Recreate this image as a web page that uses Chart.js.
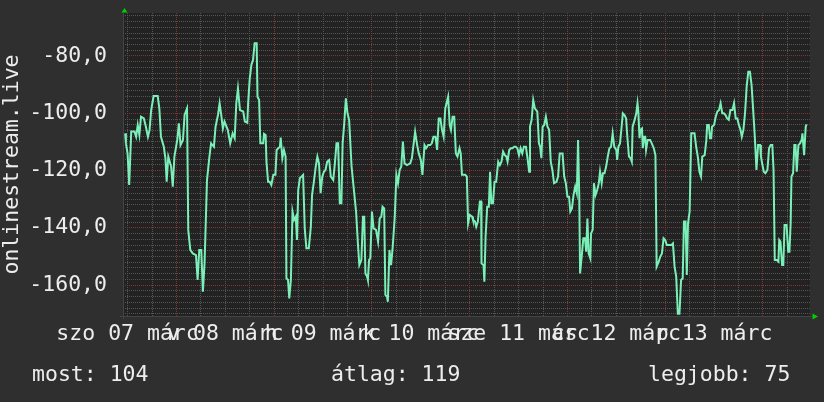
<!DOCTYPE html>
<html>
<head>
<meta charset="utf-8">
<title>onlinestream.live</title>
<script src="https://cdn.jsdelivr.net/npm/chart.js@4.4.1/dist/chart.umd.min.js"></script>
<style>
    html, body { margin: 0; padding: 0; background: #2f2f2f; }
    canvas { display: block; }
</style>
</head>
<body>
<canvas id="rrd-graph" width="824" height="402"></canvas>
<script>
// time axis: hours counted from szo 07 márc 00:00
const hours = [
    11.4, 11.6, 12.0, 12.4, 12.9, 13.7, 14.1, 14.5, 14.9, 15.3, 16.0, 16.5, 17.0, 17.4, 17.8, 18.4, 19.4, 19.8, 20.2, 20.9,
    21.3, 21.6, 22.0, 22.7, 23.1, 23.5, 24.2, 24.6, 25.0, 25.6, 26.0, 26.6, 26.9, 27.4, 28.0, 28.8, 29.2, 29.6, 30.1, 30.5,
    30.9, 31.1, 31.5, 32.1, 32.5, 33.2, 33.6, 34.2, 34.6, 35.0, 35.4, 35.8, 36.6, 37.2, 37.8, 38.3, 38.7, 39.1, 39.6, 40.4,
    40.8, 41.4, 41.6, 42.0, 42.4, 42.8, 43.2, 43.7, 43.9, 44.3, 44.6, 45.3, 45.5, 45.9, 46.1, 46.5, 46.9, 47.3, 47.8, 48.3,
    48.6, 49.0, 49.4, 49.6, 50.0, 50.4, 50.8, 51.0, 51.4, 51.7, 52.1, 52.5, 52.9, 53.3, 53.6, 53.9, 54.3, 54.7, 55.1, 55.5,
    55.9, 56.5, 57.0, 57.3, 57.7, 58.2, 58.6, 59.0, 59.4, 59.8, 60.2, 60.6, 61.0, 61.5, 61.9, 62.5, 62.9, 63.3, 63.7, 64.1,
    64.5, 64.8, 65.2, 65.6, 66.0, 66.4, 67.0, 67.4, 68.1, 68.6, 68.9, 69.4, 69.8, 70.1, 70.4, 70.8, 71.0, 71.3, 71.6, 72.0,
    72.4, 73.0, 73.5, 73.9, 74.3, 74.6, 75.0, 75.3, 75.7, 75.9, 76.3, 76.7, 77.1, 77.6, 78.0, 78.4, 78.8, 79.2, 79.6, 80.0,
    80.6, 81.4, 81.8, 82.2, 82.6, 83.1, 83.5, 84.0, 84.4, 84.9, 85.3, 85.8, 86.3, 86.7, 87.1, 87.6, 88.0, 88.4, 88.8, 89.2,
    89.6, 90.0, 90.7, 91.1, 91.4, 91.8, 92.2, 92.6, 93.0, 93.5, 93.8, 94.1, 94.9, 95.3, 95.6, 96.0, 96.6, 96.8, 97.3, 97.6,
    98.0, 98.5, 98.8, 98.9, 99.4, 99.6, 99.9, 100.3, 100.7, 101.0, 101.3, 101.7, 102.1, 102.5, 103.0, 103.4, 103.8, 104.2, 104.6, 105.0,
    105.3, 105.7, 106.1, 106.5, 106.9, 107.3, 107.7, 108.1, 108.5, 108.9, 109.3, 109.8, 110.2, 110.6, 110.8, 111.2, 111.6, 112.0, 112.6, 113.0,
    113.3, 113.6, 113.9, 114.3, 114.7, 115.1, 115.5, 115.9, 116.3, 116.7, 117.3, 117.7, 118.1, 118.8, 119.2, 119.6, 120.0, 120.4, 120.7, 121.1,
    121.5, 121.9, 122.3, 122.6, 122.9, 123.1, 123.5, 123.9, 124.3, 124.6, 124.9, 125.2, 125.6, 125.8, 126.2, 126.5, 126.9, 127.3, 127.7, 128.0,
    128.4, 128.7, 129.1, 129.5, 129.9, 130.3, 130.7, 131.1, 131.5, 132.0, 132.2, 132.5, 132.9, 133.3, 133.6, 134.0, 134.4, 134.7, 135.1, 135.5,
    135.8, 136.0, 136.5, 136.9, 137.2, 137.4, 137.7, 137.9, 138.3, 138.5, 138.8, 139.1, 139.3, 139.7, 140.3, 140.7, 141.2, 141.6, 141.9, 142.4,
    142.8, 143.2, 143.6, 144.0, 144.4, 145.1, 145.5, 145.9, 146.3, 146.7, 147.1, 147.5, 147.9, 148.3, 148.6, 149.0, 149.3, 149.6, 150.0, 150.4,
    150.8, 151.2, 151.6, 152.0, 152.4, 152.8, 153.1, 153.7, 154.1, 154.3, 154.7, 155.0, 155.3, 155.5, 156.0, 156.4, 156.8, 157.2, 157.6, 158.0,
    158.4, 158.8, 159.2, 159.6, 160.0, 160.5, 160.9, 161.3, 161.7, 162.1, 162.5, 162.8, 163.2, 163.6, 164.0, 164.4, 164.8, 165.2, 165.6, 166.0,
    166.4, 166.8, 167.3, 167.5, 167.8, 168.2, 168.6, 169.1, 169.5, 169.9, 170.3, 170.6, 170.9, 171.4, 171.8, 172.0, 172.3, 172.7, 173.0, 173.3,
    173.8, 174.2, 174.5, 174.8, 175.0, 175.4, 175.7, 176.0, 176.3, 176.7, 177.1, 177.5, 177.7, 178.1, 178.5, 178.7
];

const signal = [
    -107.0, -110.5, -114.0, -125.0, -106.4, -106.4, -108.2, -104.1, -107.6, -101.2, -101.8, -104.7, -108.2, -105.8, -98.9, -94.0, -94.0, -98.3, -108.2, -111.7,
    -115.7, -123.9, -115.1, -118.6, -125.6, -115.1, -109.3, -103.5, -111.1, -109.3, -100.6, -98.3, -140.7, -147.7, -148.9, -149.5, -158.2, -147.7, -147.7, -162.3,
    -152.4, -143.1, -123.3, -115.1, -110.5, -111.7, -104.7, -100.6, -96.5, -100.6, -105.3, -102.9, -105.8, -110.5, -107.0, -108.7, -96.5, -91.3, -98.9, -99.4,
    -102.9, -103.3, -96.5, -87.8, -83.1, -81.4, -75.6, -75.6, -94.2, -95.4, -110.5, -110.5, -107.2, -107.6, -116.9, -123.9, -123.9, -125.0, -121.5, -121.5,
    -112.8, -112.2, -111.7, -108.5, -115.7, -112.8, -115.1, -157.6, -158.2, -164.6, -158.2, -134.3, -137.2, -136.1, -144.2, -126.8, -122.7, -122.1, -121.5, -140.2,
    -147.1, -147.1, -139.6, -128.5, -124.4, -118.6, -115.1, -117.5, -127.9, -122.1, -120.4, -119.8, -116.9, -116.3, -122.1, -123.3, -117.5, -110.5, -110.5, -131.4,
    -131.4, -110.5, -103.5, -94.8, -100.0, -102.3, -118.6, -124.4, -134.3, -146.6, -153.0, -151.2, -136.1, -136.1, -155.9, -157.0, -158.2, -151.2, -150.6, -134.3,
    -140.2, -140.7, -144.8, -136.7, -136.1, -132.6, -133.2, -163.4, -164.0, -165.8, -147.7, -153.0, -146.6, -136.1, -121.5, -124.4, -119.8, -118.6, -109.9, -117.5,
    -118.1, -117.5, -115.7, -111.1, -106.4, -111.1, -114.0, -116.3, -121.5, -111.1, -112.2, -111.1, -111.1, -110.5, -108.2, -108.2, -112.8, -101.8, -101.8, -105.8,
    -108.2, -98.3, -94.2, -104.1, -105.8, -101.2, -101.2, -114.0, -115.1, -112.2, -114.0, -121.5, -121.5, -122.1, -138.4, -135.5, -136.1, -137.2, -137.8, -139.6,
    -137.8, -130.8, -130.8, -152.4, -153.0, -158.8, -143.1, -132.6, -132.6, -120.4, -131.4, -131.4, -123.9, -123.9, -116.9, -118.1, -116.9, -113.4, -114.6, -115.1,
    -116.9, -112.8, -112.2, -112.2, -111.7, -111.7, -112.2, -114.6, -112.2, -114.0, -111.7, -111.7, -115.7, -120.4, -104.7, -102.3, -95.4, -98.3, -99.4, -110.5,
    -111.7, -115.7, -104.7, -104.1, -101.2, -104.7, -105.8, -116.9, -119.8, -124.4, -123.9, -122.1, -114.0, -114.0, -122.1, -124.4, -129.1, -129.1, -134.3, -133.2,
    -128.5, -125.6, -127.9, -109.3, -129.1, -155.9, -150.0, -143.6, -143.6, -148.3, -136.7, -148.9, -150.6, -141.9, -140.7, -124.4, -128.5, -126.8, -124.4, -120.4,
    -124.4, -120.9, -120.9, -118.6, -115.1, -112.2, -111.7, -107.0, -111.7, -112.8, -116.3, -111.7, -110.5, -104.7, -100.0, -100.6, -101.8, -108.2, -115.1, -115.7,
    -116.9, -104.7, -102.3, -100.0, -96.5, -99.4, -108.7, -105.8, -105.3, -112.2, -108.2, -108.2, -112.8, -109.3, -109.3, -110.5, -112.2, -114.6, -153.5, -151.8,
    -150.0, -148.9, -143.6, -144.2, -146.0, -146.0, -146.0, -145.4, -153.5, -157.0, -170.0, -170.0, -158.2, -157.6, -137.8, -137.8, -156.4, -138.4, -134.3, -107.0,
    -107.0, -107.0, -111.7, -115.1, -120.4, -122.1, -115.1, -114.6, -109.3, -104.1, -104.1, -108.7, -108.7, -104.7, -104.1, -101.2, -99.4, -98.9, -96.5, -100.0,
    -100.0, -100.6, -101.8, -102.3, -98.9, -98.9, -96.5, -101.8, -101.8, -104.1, -105.8, -108.2, -105.8, -100.0, -90.7, -85.5, -85.5, -90.1, -98.9, -108.2,
    -119.8, -111.1, -111.1, -115.1, -117.5, -120.4, -120.9, -119.8, -112.2, -111.1, -111.1, -119.8, -151.2, -151.2, -151.8, -144.2, -144.8, -153.0, -153.0, -139.0,
    -139.0, -148.3, -148.3, -138.4, -122.1, -120.9, -111.1, -111.1, -120.4, -111.1, -110.5, -109.3, -107.0, -114.6, -104.7, -103.9
];

// one label per day, centred at noon
const dayLabels = ['szo 07 márc', 'v 08 márc', 'h 09 márc', 'k 10 márc', 'sze 11 márc', 'cs 12 márc', 'p 13 márc'];
const labelledValues = [-160, -140, -120, -100, -80];
const statNames = ['most', 'átlag', 'legjobb'];
const statValues = [104, 119, 75];

const timeStart = 10.88;
const timeEnd = 179.55;
const valueMin = -170.76;
const valueMax = -65;

const monoFont = { family: "'DejaVu Sans Mono', monospace", size: 21.5 };
const textColor = '#ededed';
const minorGrid = '#555555';
const majorGrid = '#7e3636';

// background, axis arrows and the summary line under the graph
const rrdFrame = {
    id: 'rrdFrame',
    beforeDraw(chart) {
        const { ctx, chartArea: a } = chart;
        ctx.save();
        ctx.fillStyle = '#2f2f2f';
        ctx.fillRect(0, 0, chart.width, chart.height);
        ctx.fillStyle = '#222222';
        ctx.fillRect(a.left, a.top, a.right - a.left, a.bottom - a.top);
        ctx.restore();
    },
    afterDraw(chart) {
        const { ctx, chartArea: a } = chart;
        ctx.save();

        // axis lines
        ctx.strokeStyle = '#444444';
        ctx.lineWidth = 1;
        ctx.beginPath();
        ctx.moveTo(a.left + 0.5, a.top);
        ctx.lineTo(a.left + 0.5, a.bottom + 3);
        ctx.moveTo(a.left - 3, a.bottom + 0.5);
        ctx.lineTo(a.right + 2, a.bottom + 0.5);
        ctx.stroke();

        // arrows
        ctx.fillStyle = '#00d000';
        ctx.beginPath();
        ctx.moveTo(a.left + 1.5, a.top - 5);
        ctx.lineTo(a.left - 1.5, a.top - 0.5);
        ctx.lineTo(a.left + 4.5, a.top - 0.5);
        ctx.closePath();
        ctx.fill();
        ctx.beginPath();
        ctx.moveTo(a.right + 8, a.bottom + 0.5);
        ctx.lineTo(a.right + 2.5, a.bottom - 2.5);
        ctx.lineTo(a.right + 2.5, a.bottom + 3.5);
        ctx.closePath();
        ctx.fill();

        // summary
        ctx.fillStyle = textColor;
        ctx.font = monoFont.size + 'px ' + monoFont.family;
        ctx.textBaseline = 'alphabetic';
        const statX = [32, 331, 648];
        statNames.forEach((name, i) => {
            ctx.fillText(name + ': ' + statValues[i], statX[i], 381);
        });
        ctx.restore();
    }
};

const xTicks = [];
for (let h = 12; h < timeEnd; h += 6) xTicks.push(h);
const yTicks = [];
for (let v = -170; v <= valueMax; v += 2) yTicks.push(v);

const ctx = document.getElementById('rrd-graph');
new Chart(ctx, {
    type: 'line',
    data: {
        datasets: [{
            label: 'onlinestream.live',
            data: hours.map((h, i) => ({ x: h, y: signal[i] })),
            borderColor: '#7af0b8',
            borderWidth: 2,
            pointRadius: 0,
            tension: 0,
            fill: false
        }]
    },
    options: {
        responsive: false,
        animation: false,
        devicePixelRatio: 1,
        layout: { padding: { left: 0, top: 13, right: 14, bottom: 0 } },
        plugins: {
            legend: { display: false },
            tooltip: { enabled: false }
        },
        scales: {
            x: {
                type: 'linear',
                min: timeStart,
                max: timeEnd,
                afterBuildTicks: (scale) => {
                    scale.ticks = xTicks.map(v => ({ value: v }));
                },
                afterFit: (scale) => {
                    scale.height = 86;
                    scale.paddingLeft = 0;
                    scale.paddingRight = 0;
                },
                grid: {
                    color: (c) => (c.tick && c.tick.value % 24 === 0) ? majorGrid : minorGrid,
                    lineWidth: 1,
                    drawTicks: false
                },
                border: { display: false, dash: [1, 1] },
                ticks: {
                    autoSkip: false,
                    maxRotation: 0,
                    minRotation: 0,
                    padding: 6,
                    color: textColor,
                    font: monoFont,
                    callback: (value) => value % 24 === 12 ? dayLabels[(value - 12) / 24] : ''
                }
            },
            y: {
                type: 'linear',
                min: valueMin,
                max: valueMax,
                afterBuildTicks: (scale) => {
                    scale.ticks = yTicks.map(v => ({ value: v }));
                },
                afterFit: (scale) => {
                    scale.width = 123;
                    scale.paddingTop = 0;
                    scale.paddingBottom = 0;
                },
                grid: {
                    color: (c) => (c.tick && c.tick.value % 20 === 0) ? majorGrid : minorGrid,
                    lineWidth: 1,
                    drawTicks: false
                },
                border: { display: false, dash: [1, 1] },
                title: {
                    display: true,
                    text: 'onlinestream.live',
                    color: textColor,
                    font: monoFont,
                    padding: { top: 0, bottom: 0 }
                },
                ticks: {
                    autoSkip: false,
                    padding: 16,
                    color: textColor,
                    font: monoFont,
                    callback: (value) => labelledValues.includes(value) ? value.toFixed(1).replace('.', ',') : ''
                }
            }
        }
    },
    plugins: [rrdFrame]
});
</script>
</body>
</html>
